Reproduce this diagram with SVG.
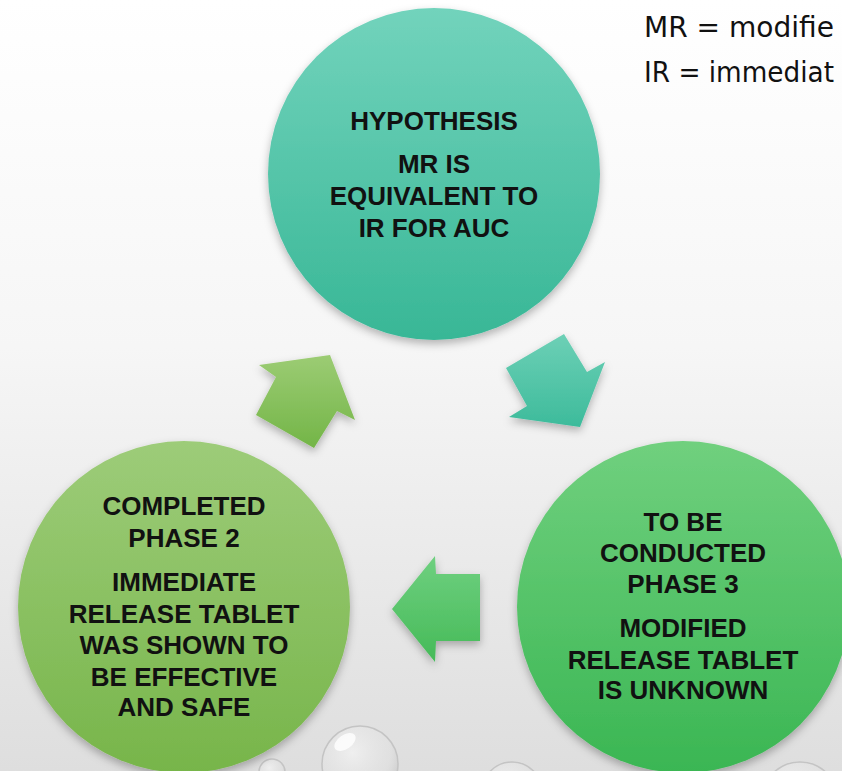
<svg xmlns="http://www.w3.org/2000/svg" width="842" height="771" viewBox="0 0 842 771">
  <defs>
    <linearGradient id="bg" x1="0" y1="0" x2="0" y2="1">
      <stop offset="0" stop-color="#ffffff"/>
      <stop offset="0.45" stop-color="#f6f6f6"/>
      <stop offset="1" stop-color="#dedede"/>
    </linearGradient>
    <linearGradient id="gTeal" x1="0" y1="0" x2="0" y2="1">
      <stop offset="0" stop-color="#72d3bc"/>
      <stop offset="1" stop-color="#38b796"/>
    </linearGradient>
    <linearGradient id="gLime" x1="0" y1="0" x2="0" y2="1">
      <stop offset="0" stop-color="#9dcc79"/>
      <stop offset="1" stop-color="#77b54a"/>
    </linearGradient>
    <linearGradient id="gGreen" x1="0" y1="0" x2="0" y2="1">
      <stop offset="0" stop-color="#70d07e"/>
      <stop offset="1" stop-color="#3ab653"/>
    </linearGradient>
    <linearGradient id="aTeal" x1="0" y1="0" x2="0" y2="1">
      <stop offset="0" stop-color="#6dd0b6"/>
      <stop offset="1" stop-color="#3dbb9b"/>
    </linearGradient>
    <linearGradient id="aLime" x1="0" y1="0" x2="0" y2="1">
      <stop offset="0" stop-color="#9ccc74"/>
      <stop offset="1" stop-color="#73b547"/>
    </linearGradient>
    <linearGradient id="aGreen" x1="0" y1="0" x2="0" y2="1">
      <stop offset="0" stop-color="#6fd080"/>
      <stop offset="1" stop-color="#45ba58"/>
    </linearGradient>
    <radialGradient id="drop" cx="0.4" cy="0.35" r="0.7">
      <stop offset="0" stop-color="#ffffff" stop-opacity="0.5"/>
      <stop offset="0.7" stop-color="#e4e4e4" stop-opacity="0.3"/>
      <stop offset="1" stop-color="#b8b8b8" stop-opacity="0.7"/>
    </radialGradient>
    <filter id="shadow" x="-20%" y="-20%" width="140%" height="140%">
      <feDropShadow dx="0" dy="4" stdDeviation="4" flood-color="#000" flood-opacity="0.28"/>
    </filter>
  </defs>
  <style>
    .label { font-family: "Liberation Sans", Arial, sans-serif; font-weight: bold; font-size: 26px; fill: #111; text-anchor: middle; }
    .legend { font-family: "DejaVu Sans", "Liberation Sans", sans-serif; font-size: 28px; fill: #111; }
    .drop { fill: url(#drop); stroke: #c4c4c4; stroke-width: 1.5; }
    .shine { fill: #ffffff; opacity: 0.8; }
  </style>

  <!-- backdrop -->
  <rect x="0" y="0" width="842" height="771" fill="url(#bg)"/>

  <!-- water droplets along the bottom edge -->
  <g id="droplets">
    <circle class="drop" cx="360" cy="764" r="38"/>
    <ellipse class="shine" cx="345" cy="742" rx="12" ry="7" transform="rotate(-35 345 742)"/>
    <circle class="drop" cx="272" cy="772" r="13"/>
    <circle class="drop" cx="512" cy="792" r="30"/>
    <circle class="drop" cx="800" cy="800" r="38"/>
  </g>

  <!-- legend (runs up to the right edge) -->
  <g id="legend">
    <text class="legend" x="644" y="37" textLength="190" lengthAdjust="spacingAndGlyphs">MR = modifie</text>
    <text class="legend" x="644" y="82" textLength="190" lengthAdjust="spacingAndGlyphs">IR = immediat</text>
  </g>

  <!-- cycle arrows -->
  <g id="connectors" filter="url(#shadow)">
    <polygon id="arrow-hyp-to-p3" fill="url(#aTeal)" points="564,334 587,372 605,362 580,427 509,417 527,406 506,368"/>
    <polygon id="arrow-p3-to-p2" fill="url(#aGreen)" points="392,609 435,556 436,574 480,574 480,641 436,641 435,662"/>
    <polygon id="arrow-p2-to-hyp" fill="url(#aLime)" points="259,365 330,355 355,420 337,411 314,448 256,415 276,377"/>
  </g>

  <!-- hypothesis -->
  <g id="node-hypothesis">
    <circle cx="434" cy="174" r="166" fill="url(#gTeal)" filter="url(#shadow)"/>
    <text class="label" x="434" y="130">HYPOTHESIS</text>
    <text class="label" x="434" y="173">MR IS</text>
    <text class="label" x="434" y="205">EQUIVALENT TO</text>
    <text class="label" x="434" y="237">IR FOR AUC</text>
  </g>

  <!-- completed phase 2 -->
  <g id="node-phase2">
    <circle cx="184" cy="607" r="166" fill="url(#gLime)" filter="url(#shadow)"/>
    <text class="label" x="184" y="515">COMPLETED</text>
    <text class="label" x="184" y="547">PHASE 2</text>
    <text class="label" x="184" y="591">IMMEDIATE</text>
    <text class="label" x="184" y="623">RELEASE TABLET</text>
    <text class="label" x="184" y="654">WAS SHOWN TO</text>
    <text class="label" x="184" y="686">BE EFFECTIVE</text>
    <text class="label" x="184" y="716">AND SAFE</text>
  </g>

  <!-- phase 3 still to come -->
  <g id="node-phase3">
    <circle cx="683" cy="607" r="166" fill="url(#gGreen)" filter="url(#shadow)"/>
    <text class="label" x="683" y="531">TO BE</text>
    <text class="label" x="683" y="562">CONDUCTED</text>
    <text class="label" x="683" y="593">PHASE 3</text>
    <text class="label" x="683" y="637">MODIFIED</text>
    <text class="label" x="683" y="669">RELEASE TABLET</text>
    <text class="label" x="683" y="699">IS UNKNOWN</text>
  </g>
</svg>
